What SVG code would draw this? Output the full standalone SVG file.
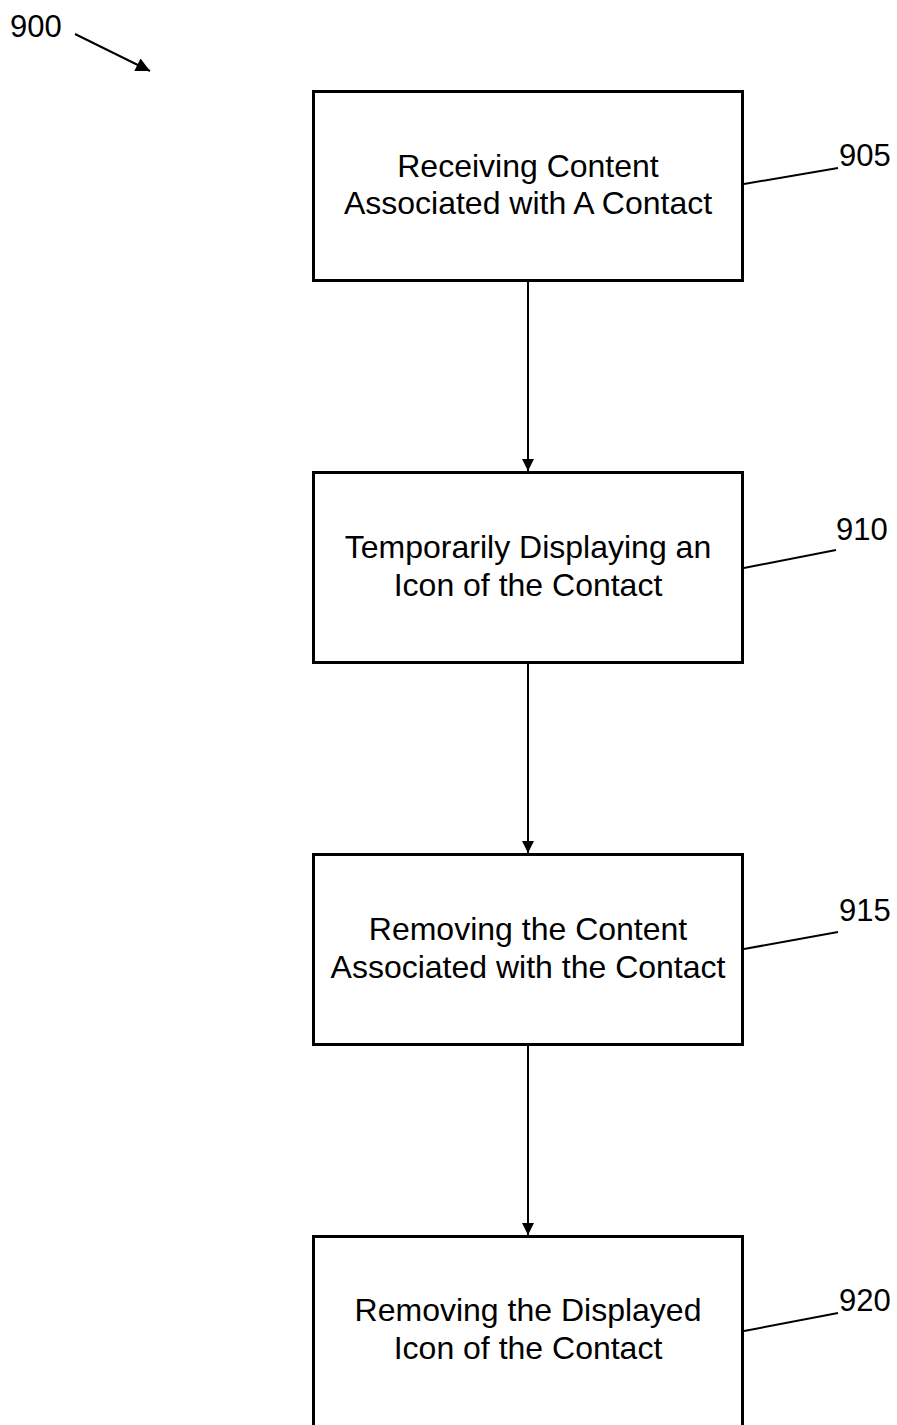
<svg xmlns="http://www.w3.org/2000/svg" width="897" height="1425" viewBox="0 0 897 1425">
<style>
.box{fill:#fff;stroke:#000;stroke-width:3}
.t{font-family:"Liberation Sans",Arial,sans-serif;font-size:32px;fill:#000;text-anchor:middle}
.n{font-family:"Liberation Sans",Arial,sans-serif;font-size:31px;fill:#000}
.ln{stroke:#000;stroke-width:2;fill:none}
</style>
<defs>
<marker id="ah" markerWidth="14" markerHeight="12" refX="10" refY="5" orient="auto" markerUnits="userSpaceOnUse" viewBox="0 0 10 10">
<path d="M0,0 L10,5 L0,10 z" fill="#000"/>
</marker>
<marker id="ah2" markerWidth="16" markerHeight="14" refX="10" refY="5" orient="auto" markerUnits="userSpaceOnUse" viewBox="0 0 10 10">
<path d="M0,0 L10,5 L0,10 z" fill="#000"/>
</marker>
</defs>
<rect width="897" height="1425" fill="#fff"/>
<g id="ref900">
<text class="n" x="10" y="37">900</text>
<line class="ln" x1="75" y1="34" x2="150" y2="71" marker-end="url(#ah2)"/>
</g>
<g id="connectors">
<line class="ln" x1="528" y1="282" x2="528" y2="471" marker-end="url(#ah)"/>
<line class="ln" x1="528" y1="664" x2="528" y2="853" marker-end="url(#ah)"/>
<line class="ln" x1="528" y1="1046" x2="528" y2="1235" marker-end="url(#ah)"/>
</g>
<g id="n905">
<rect class="box" x="313.5" y="91.5" width="429" height="189"/>
<text class="t" x="528" y="177">Receiving Content</text>
<text class="t" x="528" y="214">Associated with A Contact</text>
<line class="ln" x1="744" y1="184" x2="838" y2="168"/>
<text class="n" x="839" y="166">905</text>
</g>
<g id="n910">
<rect class="box" x="313.5" y="472.5" width="429" height="190"/>
<text class="t" x="528" y="558">Temporarily Displaying an</text>
<text class="t" x="528" y="596">Icon of the Contact</text>
<line class="ln" x1="744" y1="568" x2="836" y2="550"/>
<text class="n" x="836" y="540">910</text>
</g>
<g id="n915">
<rect class="box" x="313.5" y="854.5" width="429" height="190"/>
<text class="t" x="528" y="940">Removing the Content</text>
<text class="t" x="528" y="978">Associated with the Contact</text>
<line class="ln" x1="744" y1="949" x2="838" y2="932"/>
<text class="n" x="839" y="921">915</text>
</g>
<g id="n920">
<rect class="box" x="313.5" y="1236.5" width="429" height="240"/>
<text class="t" x="528" y="1321">Removing the Displayed</text>
<text class="t" x="528" y="1359">Icon of the Contact</text>
<line class="ln" x1="744" y1="1331" x2="838" y2="1313"/>
<text class="n" x="839" y="1311">920</text>
</g>
</svg>
